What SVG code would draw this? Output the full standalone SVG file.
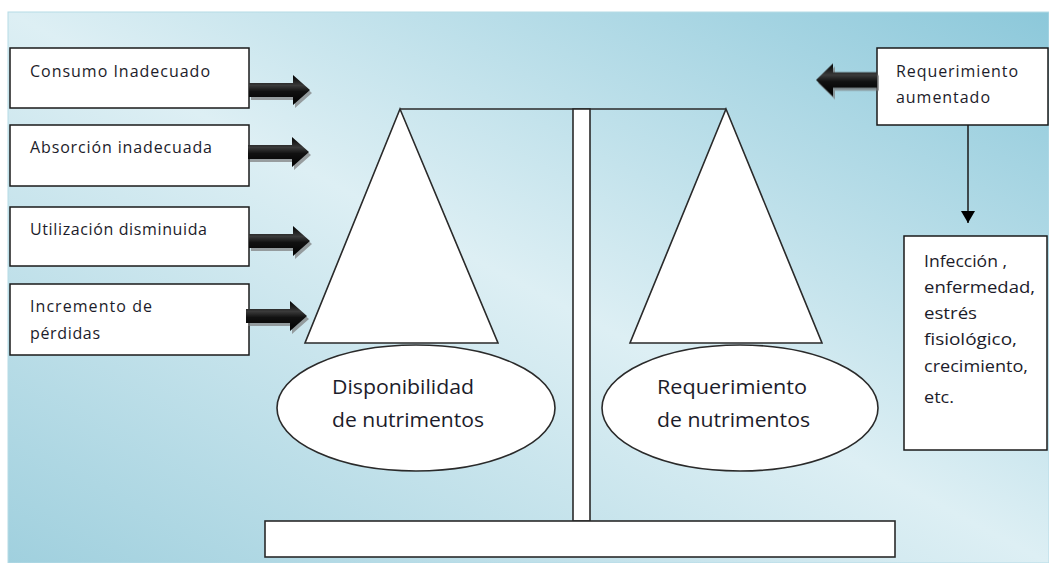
<svg xmlns="http://www.w3.org/2000/svg" width="1049" height="563" viewBox="0 0 1049 563">
  <style>
    .box { fill: #ffffff; stroke: #1a1a1a; stroke-width: 1.5; }
    .shape { fill: #ffffff; stroke: #2a2a2a; stroke-width: 1.6; }
    .t { font-family: "Open Sans", "Liberation Sans", sans-serif; font-size: 16px; fill: #1c1c2a; }
    .big { font-family: "Open Sans", "Liberation Sans", sans-serif; font-size: 20px; fill: #1c1c2a; }
  </style>
  <defs>
    <linearGradient id="bg" x1="0" y1="1" x2="1" y2="0">
      <stop offset="0" stop-color="#a0d0de"/>
      <stop offset="0.5" stop-color="#ddeff4"/>
      <stop offset="1" stop-color="#8cc8da"/>
    </linearGradient>
    <linearGradient id="arrowFill" x1="0" y1="0" x2="0" y2="1">
      <stop offset="0" stop-color="#000000"/>
      <stop offset="0.35" stop-color="#3a3a3a"/>
      <stop offset="0.55" stop-color="#111111"/>
      <stop offset="1" stop-color="#000000"/>
    </linearGradient>
    <path id="blockArrow" d="M0,-7 L44,-7 L44,-15 L61,0 L44,15 L44,7 L0,7 Z"/>
    <marker id="tri" markerWidth="12" markerHeight="14" refX="12" refY="7" orient="auto" markerUnits="userSpaceOnUse" viewBox="0 0 12 14">
      <path d="M0,0 L12,7 L0,14 Z" fill="#000"/>
    </marker>
  </defs>

  <rect x="0" y="0" width="1049" height="563" fill="#ffffff"/>
  <rect x="8" y="12" width="1041" height="551" fill="url(#bg)" stroke="#b5dbe6" stroke-width="1"/>

  <g id="scale">
    <line x1="400" y1="109" x2="726" y2="109" stroke="#2a2a2a" stroke-width="1.6"/>
    <rect class="shape" x="573" y="109" width="17" height="412"/>
    <polygon class="shape" points="400,109 305,343 498,343"/>
    <polygon class="shape" points="726,109 630,343 822,343"/>
    <rect class="shape" x="265" y="521" width="630" height="36"/>
  </g>

  <g id="disponibilidad">
    <ellipse class="shape" cx="416" cy="408" rx="139" ry="63"/>
    <text class="big" x="332" y="394" textLength="142" lengthAdjust="spacingAndGlyphs">Disponibilidad</text>
    <text class="big" x="332" y="427" textLength="152" lengthAdjust="spacingAndGlyphs">de nutrimentos</text>
  </g>

  <g id="requerimiento-nutrimentos">
    <ellipse class="shape" cx="740" cy="408" rx="138" ry="63"/>
    <text class="big" x="657" y="394" textLength="150" lengthAdjust="spacingAndGlyphs">Requerimiento</text>
    <text class="big" x="657" y="427" textLength="153" lengthAdjust="spacingAndGlyphs">de nutrimentos</text>
  </g>

  <g id="consumo">
    <rect class="box" x="10" y="48" width="239" height="60"/>
    <text class="t" x="30" y="77" textLength="180" lengthAdjust="spacing">Consumo Inadecuado</text>
  </g>
  <g id="absorcion">
    <rect class="box" x="10" y="125" width="239" height="61"/>
    <text class="t" x="30" y="153" textLength="182" lengthAdjust="spacing">Absorción inadecuada</text>
  </g>
  <g id="utilizacion">
    <rect class="box" x="10" y="207" width="239" height="59"/>
    <text class="t" x="30" y="235" textLength="177" lengthAdjust="spacing">Utilización disminuida</text>
  </g>
  <g id="incremento">
    <rect class="box" x="10" y="284" width="239" height="71"/>
    <text class="t" x="30" y="312" textLength="122" lengthAdjust="spacing">Incremento de</text>
    <text class="t" x="30" y="339" textLength="70" lengthAdjust="spacing">pérdidas</text>
  </g>

  <g id="requerimiento-aumentado">
    <rect class="box" x="877" y="48" width="171" height="77"/>
    <text class="t" x="896" y="77" textLength="122" lengthAdjust="spacing">Requerimiento</text>
    <text class="t" x="896" y="103" textLength="94" lengthAdjust="spacing">aumentado</text>
  </g>

  <g id="causas">
    <rect class="box" x="904" y="236" width="143" height="214"/>
    <text class="t" x="924" y="267" textLength="83" lengthAdjust="spacingAndGlyphs">Infección ,</text>
    <text class="t" x="924" y="293" textLength="111" lengthAdjust="spacingAndGlyphs">enfermedad,</text>
    <text class="t" x="924" y="319" textLength="53" lengthAdjust="spacingAndGlyphs">estrés</text>
    <text class="t" x="924" y="345" textLength="93" lengthAdjust="spacingAndGlyphs">fisiológico,</text>
    <text class="t" x="924" y="372" textLength="104" lengthAdjust="spacingAndGlyphs">crecimiento,</text>
    <text class="t" x="924" y="403" textLength="30" lengthAdjust="spacingAndGlyphs">etc.</text>
  </g>

  <g id="connectors">
    <g fill="#7a7a7a" opacity="0.7">
      <use href="#blockArrow" transform="translate(251,93)"/>
      <use href="#blockArrow" transform="translate(250,155)"/>
      <use href="#blockArrow" transform="translate(251,244)"/>
      <use href="#blockArrow" transform="translate(248,319)"/>
      <use href="#blockArrow" transform="translate(879,83) scale(-1,1.1)"/>
    </g>
    <g fill="url(#arrowFill)">
      <use href="#blockArrow" transform="translate(249,90)"/>
      <use href="#blockArrow" transform="translate(248,152)"/>
      <use href="#blockArrow" transform="translate(249,241)"/>
      <use href="#blockArrow" transform="translate(246,316)"/>
      <use href="#blockArrow" transform="translate(877,80) scale(-1,1.1)"/>
    </g>
    <line x1="968" y1="125" x2="968" y2="223" stroke="#1a1a1a" stroke-width="1.5" marker-end="url(#tri)"/>
  </g>
</svg>
